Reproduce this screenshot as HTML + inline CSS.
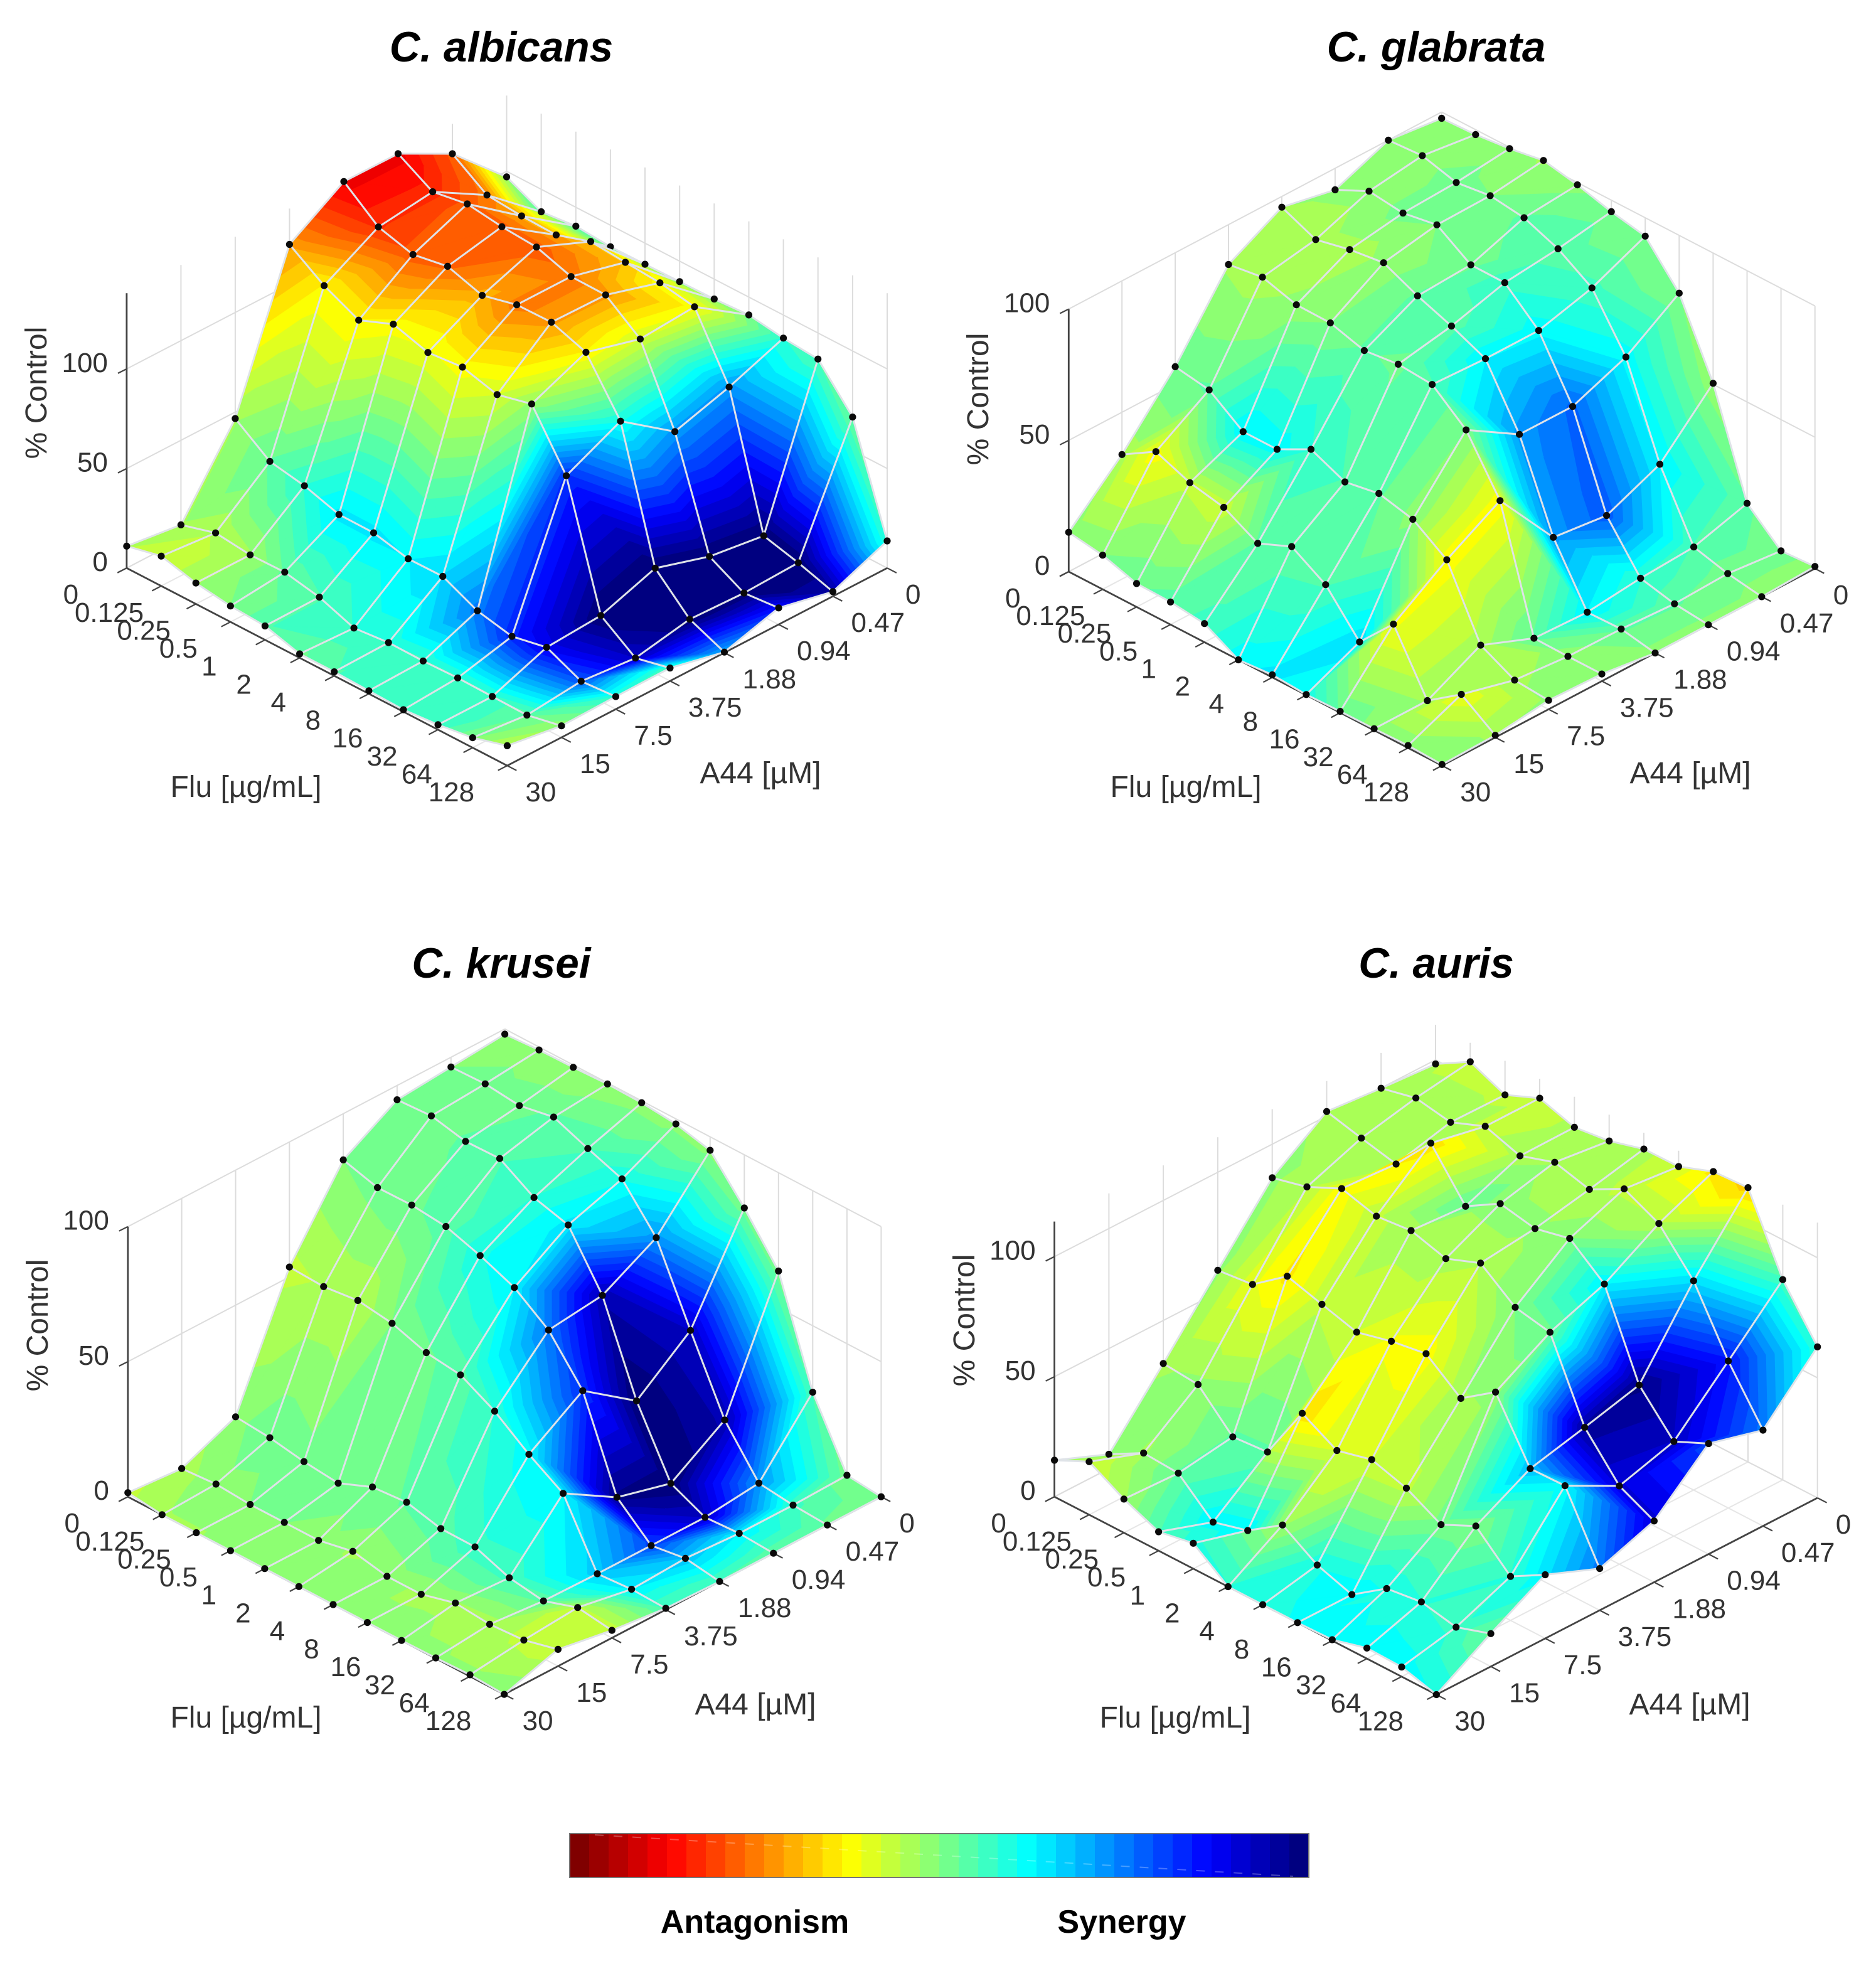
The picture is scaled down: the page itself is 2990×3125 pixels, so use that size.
<!DOCTYPE html>
<html lang="en">
<head>
<meta charset="utf-8">
<title>Checkerboard synergy surfaces</title>
<style>
html,body{margin:0;padding:0;background:#fff;}
svg{display:block;}
text{font-family:"Liberation Sans",sans-serif;fill:#333;}
.title{font-size:67.5px;font-weight:bold;font-style:italic;fill:#000;text-anchor:middle;}
.axis-title{font-size:48px;text-anchor:middle;}
.legend-label{font-size:52px;font-weight:bold;fill:#000;text-anchor:middle;}
.tick{font-size:44px;}
</style>
</head>
<body>
<svg id="figure" xmlns="http://www.w3.org/2000/svg" width="2990" height="3125" viewBox="0 0 2990 3125">
  <rect width="2990" height="3125" fill="#fff"/>
  <g id="panels"></g>

  <text class="title" x="799" y="98">C. albicans</text>
  <text class="title" x="2289" y="98">C. glabrata</text>
  <text class="title" x="799" y="1558">C. krusei</text>
  <text class="title" x="2289" y="1558">C. auris</text>

  <text class="axis-title" transform="translate(74,626) rotate(-90)">% Control</text>
  <text class="axis-title" x="392" y="1270">Flu [µg/mL]</text>
  <text class="axis-title" x="1212" y="1248">A44 [µM]</text>

  <text class="axis-title" transform="translate(1575,636) rotate(-90)">% Control</text>
  <text class="axis-title" x="1890" y="1270">Flu [µg/mL]</text>
  <text class="axis-title" x="2694" y="1248">A44 [µM]</text>

  <text class="axis-title" transform="translate(76,2112) rotate(-90)">% Control</text>
  <text class="axis-title" x="392" y="2753">Flu [µg/mL]</text>
  <text class="axis-title" x="1204" y="2732">A44 [µM]</text>

  <text class="axis-title" transform="translate(1553,2104) rotate(-90)">% Control</text>
  <text class="axis-title" x="1873" y="2753">Flu [µg/mL]</text>
  <text class="axis-title" x="2693" y="2732">A44 [µM]</text>

  <g id="colorbar"></g>
  <text class="legend-label" x="1203" y="3080">Antagonism</text>
  <text class="legend-label" x="1788" y="3080">Synergy</text>
</svg>

<script>
// Tick labels. Flu and A44 run from the front corner of each plot toward the walls.
const fluLabels = ["128","64","32","16","8","4","2","1","0.5","0.25","0.125","0"];
const a44Labels = ["30","15","7.5","3.75","1.88","0.94","0.47","0"];
const zTickValues = [0,50,100];

// % Control. Each row is one A44 dose (30 down to 0); each column is one Flu dose (128 down to 0).
const albicansControl = [
 [10,5,2.5,1,1.5,2,2,7,8,10.5,15,11],
 [5.8,2.2,2.5,2.8,2.3,2.5,0.8,7.3,10.8,10.5,12.5,7.5],
 [6.3,5,13,9.5,13.3,21.6,21.4,25.4,25.6,31,34.2,46.7],
 [6.5,2.5,14.8,76,103,98.7,103.5,101.8,107,100,108.3,120],
 [0.3,7.8,24.4,89.2,114.8,120.9,120.6,116.3,121.9,118.8,123.6,137.4],
 [8.3,6.8,16.1,69.8,107.3,120.4,120.6,126.4,127.6,130,127.1,137.2],
 [2.3,7.8,12.3,78,109.3,112.3,113.6,115,109.3,109.8,111.3,123],
 [13.6,66.8,86.9,88.4,91,90,89.7,89.4,89.2,90.5,88.7,97.2]
];
// Interaction score: negative is antagonism, positive is synergy, 0 is neutral green.
const albicansScore = [
 [-6,0,7,7,7,5,2,5,0,-3,-8,-5],
 [-2,3,7,7,7,8,8,5,3,-3,-5,-3],
 [8,28,38,33,25,16,13,14,14,8,3,-3],
 [5,42,50,32,-2,-8,-12,-10,-12,-13,-13,-22],
 [20,50,50,10,-13,-22,-25,-20,-27,-28,-32,-38],
 [35,50,50,22,-8,-22,-25,-28,-28,-28,-33,-38],
 [45,50,50,22,-12,-12,-18,-18,-20,-20,-25,-28],
 [8,2,5,8,1,0,2,2,3,5,5,-2]
];

const glabrataControl = [
 [0.4,0.9,0.6,0.5,0.2,1,0,7.1,8.6,8.9,13,15],
 [0.8,9.7,0.6,23,9.5,24.6,32.4,26.9,33.9,36.6,41.7,33.9],
 [3.4,4.4,11,36.8,45.5,48.6,46.3,52,45.3,45.3,54.5,56.6],
 [2.7,2.7,2.9,48.6,68.8,79.4,80.4,78.9,82.7,82.9,86.7,84.8],
 [0,2.4,2.1,23.9,56.4,78.5,84.2,89,94.9,93.2,90.3,95.9],
 [0,1.3,4.3,21.5,56.3,78.5,90,90.1,98.6,96.4,98,91.8],
 [0,2.1,5.5,30.3,64.4,84,92.2,97.3,99,97.3,100.8,100],
 [0.8,0,11.4,50.4,78,93,95.6,99.1,101.7,99.5,98.1,97.6]
];
const glabrataScore = [
 [-1,-1,-1,2,10,14,12,6,4,2,0,-1],
 [-3,-10,-3,-11,15,5,3,3,-7,-6,-12,-4],
 [-2,-3,-4,-12,-1,3,5,8,12,13,3,2],
 [-1,-2,3,-12,0,5,2,3,0,-2,-4,-3],
 [-1,3,13,22,22,13,4,3,-2,-4,-4,-3],
 [-1,3,8,28,27,12,7,2,0,1,-2,0],
 [-1,1,5,13,12,6,4,3,0,1,-1,0],
 [-1,1,3,-2,0,0,2,-1,-3,-1,-2,-1]
];

const kruseiControl = [
 [0,0.6,0.2,0,0,0,0,0,0,0,0,1.5],
 [6.2,3,2.2,3.4,0,0,2.6,0,0,0,0.9,0],
 [2.8,4.6,0.4,2.3,7.1,7.2,10.3,9.3,4.1,5.4,7.6,8.7],
 [0.5,0.9,0,23.1,30.9,40.2,47,48.6,52.8,54.6,53.1,53.7],
 [0,1.9,0,11.2,44,59.8,68.9,74.1,78.2,79.5,79.3,82.9],
 [0,0.7,0,5.9,29.8,62.2,81.6,85.1,92.9,92.6,95.4,94.7],
 [0,0.7,2.2,18.9,45.4,73.1,88.2,92.8,97.8,95.4,96.8,96.4],
 [0,1.3,25.4,63.6,80.3,95,98.1,99.3,99.6,99.1,98.9,98.1]
];
const kruseiScore = [
 [0,-2,-2,-2,-2,-2,-1,0,-1,-3,-3,-6],
 [-7,-6,-4,-3,-3,-2,-3,-1,0,0,-1,-4],
 [-7,-6,3,6,7,4,3,1,2,1,2,-1],
 [5,13,17,13,12,8,4,2,0,-5,-5,-6],
 [5,18,30,48,32,25,13,10,4,2,1,0],
 [3,13,42,50,50,44,14,8,5,3,1,0],
 [2,6,22,44,42,22,10,5,3,2,1,0],
 [0,1,5,1,1,-1,-1,-1,-2,-2,-1,0]
];

const aurisControl = [
 [0,4,4.4,0.4,0,0,0,10.6,7.9,14,22.1,15.2],
 [13.7,8.9,11.9,10,0,4.8,14,4.2,0.2,13.1,14,6],
 [26.5,18.3,31.8,24.9,32.6,37,33.3,41.3,17.7,16.5,30.8,32.1],
 [17.4,44.4,44,68.4,58.3,69.4,67.1,63.4,67.5,71.7,60.8,59.2],
 [25.5,32.6,49.5,81.6,84.5,95.4,89.8,94,92.5,96.5,89.7,86],
 [46,39.4,55.4,90,101.5,98.1,101,92.4,111.2,95,98.3,101.9],
 [39.9,61.2,87.1,103.5,110.4,102.7,106.5,101.7,106.5,100.7,103.3,99.9],
 [62.9,83.4,114.2,113.4,108,107.8,103.7,101.9,106.5,100.4,106.7,98.3]
];
const aurisScore = [
 [10,12,13,12,11,9,8,9,5,-3,-8,-2],
 [2,7,8,10,13,10,-3,13,13,3,-3,-1],
 [12,8,0,1,-6,-8,-8,-15,3,3,-2,-3],
 [25,12,18,-2,-3,-12,-11,-8,-6,-14,-10,-2],
 [40,40,46,2,0,-5,-4,-4,-6,-12,-5,-2],
 [30,42,48,13,0,-2,-2,3,-15,-3,-4,-3],
 [25,35,15,-5,-6,-4,-3,-4,-6,-4,-3,-3],
 [8,6,-17,-14,-8,-4,-4,-5,-6,-6,-7,-5]
];

const colorLevels = 38;
const NS = "http://www.w3.org/2000/svg";

const panels = [
 {key:"albicans", control:albicansControl, score:albicansScore, left:[201.9,905.2], front:[808.4,1220.1], right:[1414,905.2], zUnit:3.173, zTop:138},
 {key:"glabrata", control:glabrataControl, score:glabrataScore, left:[1703.3,911], front:[2298.3,1220], right:[2892.7,906], zUnit:4.185, zTop:100},
 {key:"krusei", control:kruseiControl, score:kruseiScore, left:[203.8,2385.2], front:[803.6,2700.1], right:[1404.4,2385.2], zUnit:4.305, zTop:100},
 {key:"auris", control:aurisControl, score:aurisScore, left:[1680.6,2385.2], front:[2289.3,2700.5], right:[2896.7,2387], zUnit:3.827, zTop:114.6}
];

function svgEl(tag, attrs, parent){
  const el = document.createElementNS(NS, tag);
  for (const k in attrs) el.setAttribute(k, attrs[k]);
  parent.appendChild(el);
  return el;
}
function clamp01(x){ return Math.max(0, Math.min(1, x)); }
// Reversed jet: position 0 is dark red, position 1 is dark blue.
function jetColor(t){
  const j = 1 - t;
  const r = clamp01(1.5 - Math.abs(4*j - 3));
  const g = clamp01(1.5 - Math.abs(4*j - 2));
  const b = clamp01(1.5 - Math.abs(4*j - 1));
  return "rgb(" + Math.round(r*255) + "," + Math.round(g*255) + "," + Math.round(b*255) + ")";
}
function axisX(p,u,v){ return p.front[0] + u*(p.left[0]-p.front[0])/11 + v*(p.right[0]-p.front[0])/7; }
function axisFloorY(p,u,v){ return p.front[1] + u*(p.left[1]-p.front[1])/11 + v*(p.right[1]-p.front[1])/7; }
function axisY(p,u,v,z){ return axisFloorY(p,u,v) - z*p.zUnit; }
function scoreToPosition(s){ return clamp01(0.5 + s/100); }

function line(parent,x1,y1,x2,y2,stroke,w){
  return svgEl("line",{x1:x1.toFixed(1),y1:y1.toFixed(1),x2:x2.toFixed(1),y2:y2.toFixed(1),stroke:stroke,"stroke-width":w},parent);
}

function drawWalls(p, g){
  const grid = "#dcdcdc";
  for (let v=0; v<a44Labels.length; v++){
    const x = axisX(p,11,v);
    const l = line(g,x,axisY(p,11,v,0),x,axisY(p,11,v,p.zTop),grid,2);
    
    
    const f = line(g,axisX(p,0,v),axisY(p,0,v,0),x,axisY(p,11,v,0),"#e6e6e6",2);
    
    
  }
  for (let u=0; u<fluLabels.length; u++){
    const x = axisX(p,u,7);
    const l = line(g,x,axisY(p,u,7,0),x,axisY(p,u,7,p.zTop),grid,2);
    
    
    const f = line(g,axisX(p,u,0),axisY(p,u,0,0),x,axisY(p,u,7,0),"#e6e6e6",2);
    
    
  }
  zTickValues.forEach(function(z){
    const a = line(g,axisX(p,11,0),axisY(p,11,0,z),axisX(p,11,7),axisY(p,11,7,z),grid,2);
    
    
    const b = line(g,axisX(p,11,7),axisY(p,11,7,z),axisX(p,0,7),axisY(p,0,7,z),grid,2);
    
    
  });
}

function drawAxes(p, g){
  const dark = "#444";
  const e1 = line(g,axisX(p,11,0),axisY(p,11,0,0),axisX(p,0,0),axisY(p,0,0,0),dark,2.8);
  
  
  const e2 = line(g,axisX(p,0,0),axisY(p,0,0,0),axisX(p,0,7),axisY(p,0,7,0),dark,2.8);
  
  
  const e3 = line(g,axisX(p,11,0),axisY(p,11,0,0),axisX(p,11,0),axisY(p,11,0,p.zTop),dark,2.8);
  
  

  fluLabels.forEach(function(label,u){
    const x = axisX(p,u,0), y = axisY(p,u,0,0);
    const t = line(g,x,y,x-(axisX(p,0,1)-axisX(p,0,0))*0.17,y-(axisFloorY(p,0,1)-axisFloorY(p,0,0))*0.17,dark,2.2);
    
    
    const nudge = label.indexOf(".")>=0 ? 6 : 0;
    const txt = svgEl("text",{class:"tick",x:(x-89+nudge).toFixed(1),y:(y+57).toFixed(1),"text-anchor":"middle"},g);
    
    
    txt.textContent = label;
  });
  a44Labels.forEach(function(label,v){
    const x = axisX(p,0,v), y = axisY(p,0,v,0);
    const t = line(g,x,y,x-(axisX(p,1,0)-axisX(p,0,0))*0.27,y-(axisFloorY(p,1,0)-axisFloorY(p,0,0))*0.27,dark,2.2);
    
    
    const txt = svgEl("text",{class:"tick",x:(x+29).toFixed(1),y:(y+57).toFixed(1),"text-anchor":"start"},g);
    
    
    txt.textContent = label;
  });
  zTickValues.forEach(function(z){
    const x = axisX(p,11,0), y = axisY(p,11,0,z);
    const t = line(g,x,y,x-14,y+7,dark,2.2);
    
    
    const txt = svgEl("text",{class:"tick",x:(x-30).toFixed(1),y:(y+5).toFixed(1),"text-anchor":"end"},g);
    
    
    txt.textContent = String(z);
  });
}

function meshEdge(p,g,u1,v1,u2,v2){
  const l = line(g,axisX(p,u1,v1),axisY(p,u1,v1,p.control[v1][u1]),axisX(p,u2,v2),axisY(p,u2,v2,p.control[v2][u2]),"#dfe3e8",3);
  
  
}
function meshDot(p,g,u,v){
  const c = svgEl("circle",{cx:axisX(p,u,v).toFixed(1),cy:axisY(p,u,v,p.control[v][u]).toFixed(1),r:5.6,fill:"#0a0a0a"},g);
  
  
}

// Keep the part of a polygon where keep(vertex) is not negative.
function clipPolygon(poly, keep){
  const out = [];
  for (let i=0; i<poly.length; i++){
    const a = poly[i], b = poly[(i+1)%poly.length];
    const ka = keep(a), kb = keep(b);
    if (ka >= 0) out.push(a);
    if ((ka >= 0) !== (kb >= 0)){
      const f = ka/(ka-kb);
      out.push({x:a.x+f*(b.x-a.x), y:a.y+f*(b.y-a.y), t:a.t+f*(b.t-a.t)});
    }
  }
  return out;
}

// One flat triangle, split into the discrete color-map bands it crosses.
function drawTriangle(p, g, corners){
  const verts = corners.map(function(c){
    return {x:axisX(p,c[0],c[1]), y:axisY(p,c[0],c[1],p.control[c[1]][c[0]]), t:scoreToPosition(p.score[c[1]][c[0]])};
  });
  const ts = verts.map(function(q){ return q.t; });
  const lo = Math.min(colorLevels-1, Math.floor(Math.min.apply(null,ts)*colorLevels));
  const hi = Math.min(colorLevels-1, Math.floor(Math.max.apply(null,ts)*colorLevels));
  for (let L=lo; L<=hi; L++){
    let poly = verts;
    if (L>0) poly = clipPolygon(poly,function(q){ return q.t - L/colorLevels; });
    if (L<colorLevels-1) poly = clipPolygon(poly,function(q){ return (L+1)/colorLevels - q.t; });
    if (poly.length<3) continue;
    const col = jetColor(L/(colorLevels-1));
    const pts = poly.map(function(q){ return q.x.toFixed(1)+","+q.y.toFixed(1); }).join(" ");
    const f = svgEl("polygon",{points:pts,fill:col,stroke:col,"stroke-width":1,"stroke-linejoin":"round"},g);
    
    
  }
}

function drawSurface(p, g){
  for (let u=10; u>=0; u--){
    for (let v=6; v>=0; v--){
      drawTriangle(p,g,[[u+1,v+1],[u+1,v],[u,v+1]]);
      drawTriangle(p,g,[[u,v],[u+1,v],[u,v+1]]);
      meshEdge(p,g,u,v+1,u+1,v+1);
      meshEdge(p,g,u+1,v,u+1,v+1);
      meshDot(p,g,u+1,v+1);
      if (v===0){ meshEdge(p,g,u,0,u+1,0); meshDot(p,g,u+1,0); }
      if (u===0){ meshEdge(p,g,0,v,0,v+1); meshDot(p,g,0,v+1); }
      if (u===0 && v===0){ meshDot(p,g,0,0); }
    }
  }
}

const root = document.getElementById("panels");
panels.forEach(function(p){
  const g = svgEl("g",{},root);
  
  
  const walls = svgEl("g",{},g);
  
  
  drawWalls(p,walls);
  const axes = svgEl("g",{},g);
  
  
  drawAxes(p,axes);
  const surf = svgEl("g",{},g);
  
  
  drawSurface(p,surf);
});

// Color bar
const bar = document.getElementById("colorbar");
const barX = 908, barY = 2922, barW = 1178, barH = 70;
for (let i=0; i<colorLevels; i++){
  const r = svgEl("rect",{x:(barX+i*barW/colorLevels).toFixed(1),y:barY,width:(barW/colorLevels+0.6).toFixed(1),height:barH,fill:jetColor(i/(colorLevels-1))},bar);
  
  
}
const frame = svgEl("rect",{x:barX,y:barY,width:barW,height:barH,fill:"none",stroke:"#777","stroke-width":2},bar);


const dash = svgEl("line",{x1:barX+40,y1:barY+2,x2:barX+barW-25,y2:barY+barH-2,stroke:"rgba(255,255,255,0.28)","stroke-width":2,"stroke-dasharray":"14 16"},bar);


</script>
</body>
</html>
